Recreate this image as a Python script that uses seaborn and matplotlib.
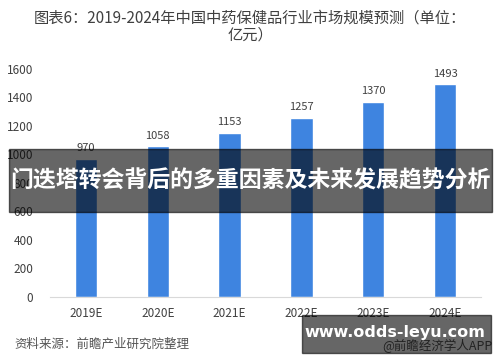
import matplotlib
matplotlib.use("Agg")
import matplotlib.pyplot as plt
import seaborn as sns
import pandas as pd
from matplotlib.patches import Rectangle

# ==========================================================
# DATA
# ==========================================================

years = ["2019E", "2020E", "2021E", "2022E", "2023E", "2024E"]
market_size = [970, 1058, 1153, 1257, 1370, 1493]
y_ticks = [0, 200, 400, 600, 800, 1000, 1200, 1400, 1600]

title_text = "图表6：2019-2024年中国中药保健品行业市场规模预测（单位：\n亿元）"
source_text = "资料来源：前瞻产业研究院整理"
brand_text = "@前瞻经济学人APP"
banner_text = "门迭塔转会背后的多重因素及未来发展趋势分析"
site_text = "www.odds-leyu.com"

df = pd.DataFrame({"year": years, "value": market_size})

# ==========================================================
# STYLE
# ==========================================================

sns.set_theme(style="white")
plt.rcParams["font.family"] = ["Noto Sans CJK SC", "DejaVu Sans"]

bar_color = "#3e84e0"
text_color = "#404040"

fig = plt.figure(figsize=(5, 3.62), dpi=100)
ax = fig.add_axes([0.1, 0.1796, 0.862, 0.63])

sns.barplot(
    data=df,
    x="year",
    y="value",
    color=bar_color,
    width=0.31,
    saturation=1,
    ax=ax
)

ax.bar_label(ax.containers[0], labels=[str(v) for v in market_size],
             padding=4, fontsize=8, color=text_color)

ax.set_ylim(0, 1600)
ax.set_xlim(-0.5, 5.5)
ax.set_yticks(y_ticks)
ax.set_xlabel("")
ax.set_ylabel("")
ax.tick_params(axis="y", length=0, pad=12, labelsize=8.5, labelcolor=text_color)
ax.tick_params(axis="x", length=0, pad=7, labelsize=8.5, labelcolor=text_color)

for side in ["top", "right", "left"]:
    ax.spines[side].set_visible(False)
ax.spines["bottom"].set_color("#d9d9d9")
ax.spines["bottom"].set_linewidth(0.8)

# ==========================================================
# TEXTS
# ==========================================================

fig.text(0.5, 0.975, title_text, ha="center", va="top",
         fontsize=11, color=text_color, linespacing=1.0)

fig.text(0.028, 0.05, source_text, ha="left", va="center",
         fontsize=9, color="#555555", style="italic")

fig.text(0.985, 0.045, brand_text, ha="right", va="center",
         fontsize=9, color="#555555")

# ==========================================================
# OVERLAYS
# ==========================================================

fig.patches.append(Rectangle((0.018, 1 - 212 / 362), 0.966, 63 / 362,
                             transform=fig.transFigure, color="black",
                             alpha=0.6, zorder=5))
fig.text(0.5, 1 - 181 / 362, banner_text, ha="center", va="center",
         fontsize=16.5, fontweight="bold", color="white", zorder=6)

fig.patches.append(Rectangle((0.604, 1 - 353 / 362), 0.378, 38 / 362,
                             transform=fig.transFigure, color="black",
                             alpha=0.6, zorder=5))
fig.text(0.79, 1 - 333 / 362, site_text, ha="center", va="center",
         fontsize=11.5, fontweight="bold", color="white", zorder=6,
         family="DejaVu Sans")

fig.savefig("out.png", dpi=100)
plt.close()
